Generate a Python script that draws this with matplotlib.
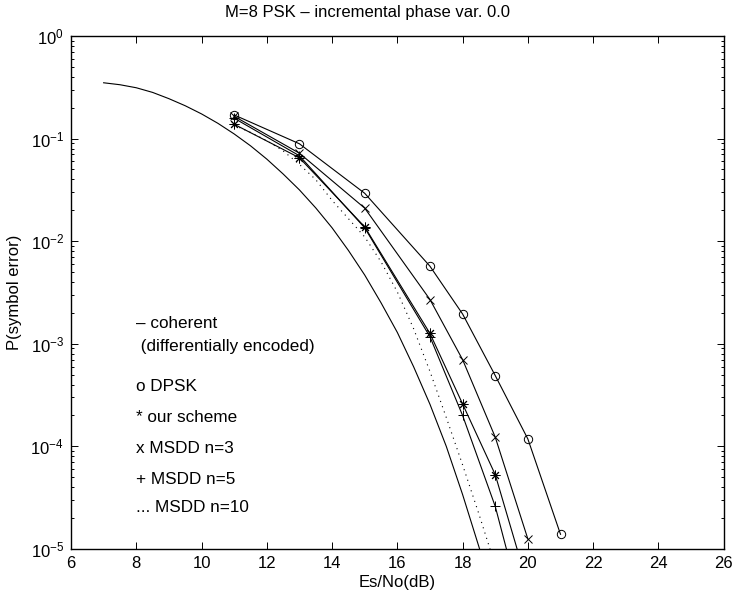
import matplotlib
matplotlib.use('Agg')
import matplotlib.pyplot as plt
import numpy as np

plt.rcParams['font.family'] = ['Liberation Sans', 'DejaVu Sans']
plt.rcParams['mathtext.fontset'] = 'custom'
plt.rcParams['mathtext.rm'] = 'Liberation Sans'
plt.rcParams['mathtext.it'] = 'Liberation Sans'
plt.rcParams['font.size'] = 12

# --- coherent (differentially encoded), smooth curve
snr_coh = [7, 7.5, 8, 8.5, 9, 9.5, 10, 10.5, 11, 11.5, 12, 12.5, 13, 13.5,
           14, 14.5, 15, 15.5, 16, 16.5, 17, 17.5, 18, 18.5, 19]
pe_coh = [0.350, 0.335, 0.313, 0.282, 0.245, 0.209, 0.174, 0.141, 0.111, 0.0851,
          0.0631, 0.0452, 0.0316, 0.0211, 0.0135, 0.00813, 0.00468, 0.00251,
          0.00129, 0.000596, 0.000257, 0.0001, 3.39e-5, 1.05e-5, 3.2e-6]

# --- MSDD n=10 (dotted)
snr_n10 = [11, 11.5, 12, 12.5, 13, 13.5, 14, 14.5, 15, 15.5, 16, 16.5, 17,
           17.5, 18, 18.5, 19]
pe_n10 = [0.135, 0.115, 0.0955, 0.0759, 0.056, 0.0398, 0.025, 0.0166, 0.011,
          0.00630, 0.00320, 0.00140, 0.000537, 0.000191, 6.6e-5, 2.19e-5, 6.9e-6]

# --- simulated points
snr_dpsk = [11, 13, 15, 17, 18, 19, 20, 21]
pe_dpsk = [0.17, 0.089, 0.0293, 0.0057, 0.00195, 0.00049, 0.000118, 1.39e-5]

snr_sim = [11, 13, 15, 17, 18, 19, 20]
pe_ours = [0.138, 0.065, 0.0138, 0.00126, 0.000259, 5.3e-5, 4.4e-6]
pe_n3 = [0.165, 0.072, 0.021, 0.0027, 0.0007, 0.000123, 1.25e-5]
pe_n5 = [0.158, 0.068, 0.0135, 0.00117, 0.0002, 2.6e-5, 1.6e-6]

labels = ['\u2013 coherent', ' (differentially encoded)', 'o DPSK',
          '* our scheme', 'x MSDD n=3', '+ MSDD n=5', '... MSDD n=10']
label_y = [10**-2.8, 10**-3.03, 10**-3.42, 10**-3.72, 10**-4.02, 10**-4.32, 10**-4.6]

fig = plt.figure(figsize=(7.35, 5.96), dpi=100)
ax = fig.add_axes([0.0966, 0.0789, 0.888, 0.8607])

lw = 0.8
ms = 6
ax.semilogy(snr_coh, pe_coh, '-', color='k', lw=lw)
ax.semilogy(snr_n10, pe_n10, color='k', lw=0.8, linestyle=(0, (1, 4)))
ax.semilogy(snr_dpsk, pe_dpsk, '-', color='k', lw=lw, marker='o', ms=ms,
            mfc='none', mew=0.7)
ax.semilogy(snr_sim, pe_n3, '-', color='k', lw=lw, marker='x', ms=ms, mew=0.7)
ax.semilogy(snr_sim, pe_n5, '-', color='k', lw=lw, marker='+', ms=ms + 1, mew=0.7)
ax.semilogy(snr_sim, pe_ours, '-', color='k', lw=lw, marker=(8, 2, 0), ms=ms + 1,
            mew=0.7)

for txt, yy in zip(labels, label_y):
    ax.text(8.0, yy, txt, va='center', ha='left', fontsize=12.3)

ax.set_xlim(6, 26)
ax.set_ylim(1e-5, 1)
ax.set_xticks(np.arange(6, 27, 2))
ax.tick_params(which='both', direction='in', top=True, right=True)
ax.tick_params(which='major', length=5, width=0.7, labelsize=12)
ax.tick_params(axis='x', which='major', pad=5)
ax.tick_params(axis='y', which='major', pad=5)
ax.tick_params(which='minor', length=2.5, width=0.7)
for s in ax.spines.values():
    s.set_linewidth(1.0)

# title is centred on the figure, not the axes
fig.text(0.5, 0.979, 'M=8 PSK \u2013 incremental phase var. 0.0', fontsize=12,
         ha='center', va='center')
ax.set_xlabel('Es/No(dB)', labelpad=3)
ax.set_ylabel('P(symbol error)', labelpad=6)

fig.savefig('out.png', dpi=100)
